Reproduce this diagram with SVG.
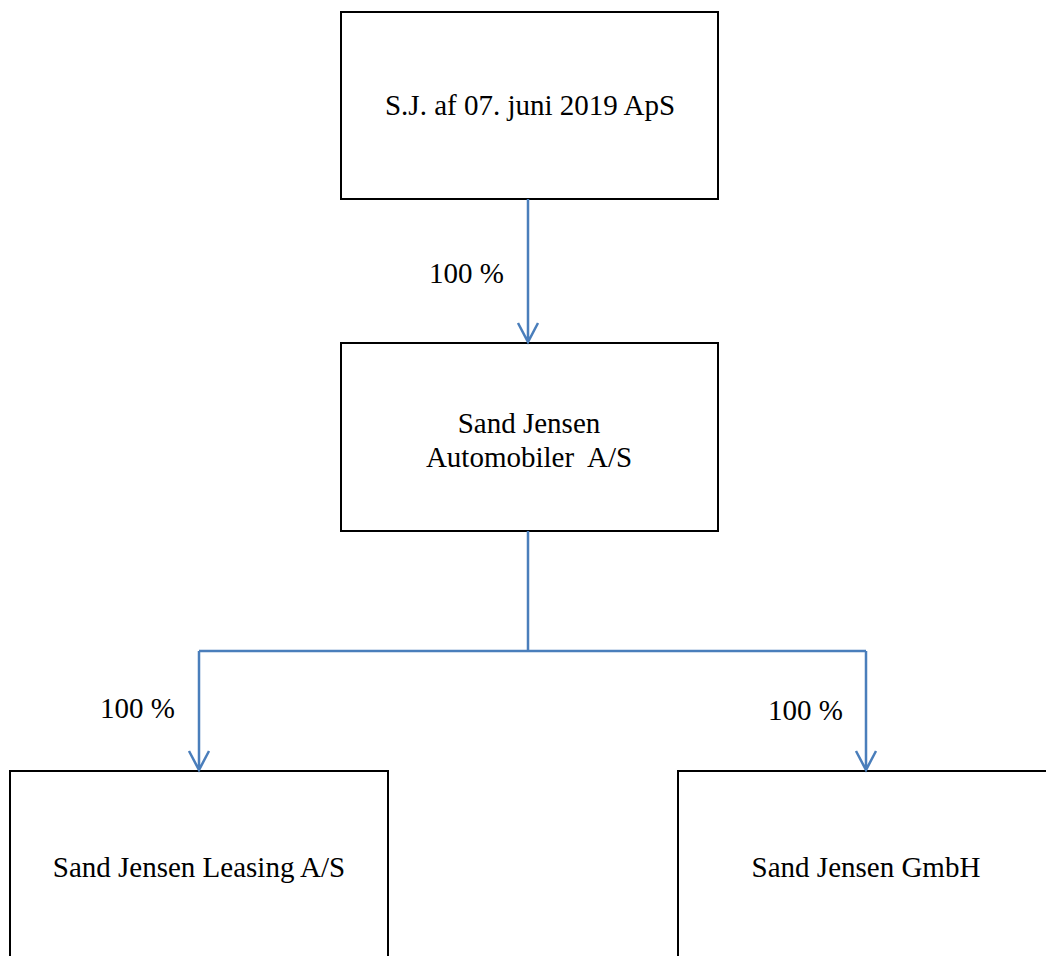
<svg xmlns="http://www.w3.org/2000/svg" width="1046" height="956" viewBox="0 0 1046 956">
<style>
.box{fill:#fff;stroke:#000;stroke-width:2}
.t{font-family:"Liberation Serif","Times New Roman",serif;font-size:29px;fill:#000;text-anchor:middle}
.c{fill:none;stroke:#4a7ebb;stroke-width:2.5}
.lbl{font-family:"Liberation Serif","Times New Roman",serif;font-size:29px;fill:#000}
</style>
<rect width="1046" height="956" fill="#fff"/>
<g id="n1"><rect class="box" x="341" y="12" width="377" height="187"/><text class="t" x="530" y="115">S.J. af 07. juni 2019 ApS</text></g>
<g id="n2"><rect class="box" x="341" y="343" width="377" height="188"/><text class="t" x="529" y="433">Sand Jensen</text><text class="t" x="529" y="467" xml:space="preserve">Automobiler  A/S</text></g>
<g id="n3"><rect class="box" x="10" y="771" width="378" height="200"/><text class="t" x="199" y="877">Sand Jensen Leasing A/S</text></g>
<g id="n4"><rect class="box" x="678" y="771" width="380" height="200"/><text class="t" x="866" y="877">Sand Jensen GmbH</text></g>
<g id="connectors">
<path class="c" d="M528 199 V342 M518 323 L528 342 L538 323"/>
<path class="c" d="M528 531 V651 M199 651 H866 M199 651 V770 M189 751 L199 770 L209 751 M866 651 V770 M856 751 L866 770 L876 751"/>
<text class="lbl" x="429" y="283">100 %</text>
<text class="lbl" x="100" y="718">100 %</text>
<text class="lbl" x="768" y="720">100 %</text>
</g>
</svg>
